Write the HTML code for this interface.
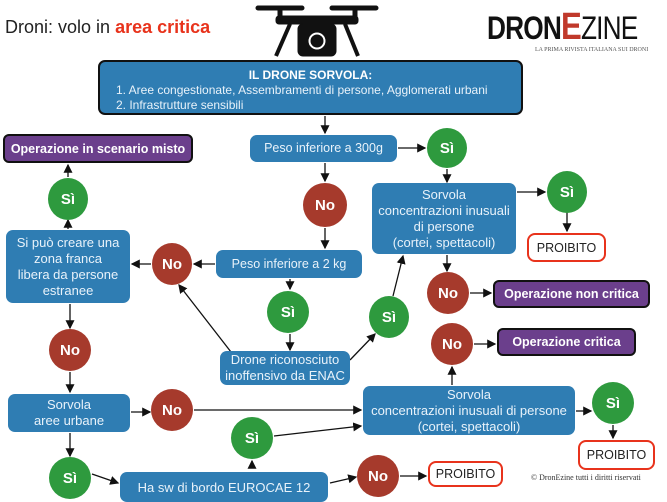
<!DOCTYPE html>
<html><head><meta charset="utf-8"><style>
body{margin:0;width:667px;height:500px;background:#fff;position:relative;overflow:hidden;font-family:"Liberation Sans",sans-serif}
.b{position:absolute;background:#2f7db3;color:#e8f2fa;border-radius:7px;display:flex;align-items:center;justify-content:center;text-align:center;font-size:12.5px;line-height:15px}
.p{position:absolute;background:#6b3f8c;color:#fff;border:2.5px solid #111;border-radius:6px;display:flex;align-items:center;justify-content:center;font-weight:bold;font-size:12.5px;box-sizing:border-box}
.r{position:absolute;background:#fff;border:2.5px solid #e8331c;border-radius:8px;display:flex;align-items:center;justify-content:center;font-size:12.5px;color:#222;box-sizing:border-box}
.c{position:absolute;border-radius:50%;display:flex;align-items:center;justify-content:center;color:#fff;font-weight:bold;font-size:15px}
.g{background:#2e9a3e}.n{background:#a63a2c}
svg{position:absolute;left:0;top:0}
</style></head><body>
<div style="position:absolute;left:5px;top:17px;font-size:18px;color:#222">Droni: volo in <b style="color:#e8331c">area critica</b></div>
<svg width="667" height="500">
<defs><marker id="a" markerWidth="7" markerHeight="7" refX="6" refY="3.5" orient="auto"><path d="M0,0 L7,3.5 L0,7z" fill="#111"/></marker></defs>
<!-- drone -->
<g fill="#111" stroke="#111">
<rect x="256" y="6" width="48" height="4" rx="2"/><rect x="330" y="6" width="48" height="4" rx="2"/>
<rect x="278" y="8" width="4" height="10"/><rect x="353" y="8" width="4" height="10"/>
<rect x="276" y="16" width="82" height="8" rx="3"/>
<line x1="290" y1="24" x2="276" y2="56" stroke-width="4"/><line x1="345" y1="24" x2="358" y2="56" stroke-width="4"/>
<rect x="298" y="24" width="38" height="32" rx="5"/>
<circle cx="317" cy="41" r="9" fill="#fff"/><circle cx="317" cy="41" r="6"/>
</g>
<g stroke="#111" stroke-width="1.3" fill="none" marker-end="url(#a)">
<line x1="325" y1="116" x2="325" y2="133"/>
<line x1="398" y1="148" x2="425" y2="148"/>
<line x1="325" y1="163" x2="325" y2="181"/>
<line x1="447" y1="169" x2="447" y2="182"/>
<line x1="325" y1="228" x2="325" y2="248"/>
<line x1="517" y1="192" x2="545" y2="192"/>
<line x1="567" y1="212" x2="567" y2="231"/>
<line x1="68" y1="229" x2="68" y2="220"/>
<line x1="68" y1="177" x2="68" y2="165"/>
<line x1="215" y1="264" x2="194" y2="264"/>
<line x1="151" y1="264" x2="132" y2="264"/>
<line x1="290" y1="279" x2="290" y2="289"/>
<line x1="290" y1="334" x2="290" y2="350"/>
<line x1="447" y1="255" x2="447" y2="271"/>
<line x1="470" y1="293" x2="491" y2="293"/>
<line x1="231" y1="352" x2="179" y2="285"/>
<line x1="350" y1="360" x2="375" y2="334"/>
<line x1="393" y1="296" x2="403" y2="256"/>
<line x1="70" y1="304" x2="70" y2="328"/>
<line x1="70" y1="372" x2="70" y2="392"/>
<line x1="452" y1="385" x2="452" y2="367"/>
<line x1="474" y1="344" x2="495" y2="344"/>
<line x1="131" y1="412" x2="150" y2="412"/>
<line x1="194" y1="410" x2="361" y2="410"/>
<line x1="70" y1="433" x2="70" y2="456"/>
<line x1="274" y1="436" x2="361" y2="426"/>
<line x1="576" y1="411" x2="591" y2="411"/>
<line x1="613" y1="425" x2="613" y2="438"/>
<line x1="252" y1="467" x2="252" y2="461"/>
<line x1="92" y1="474" x2="118" y2="483"/>
<line x1="330" y1="483" x2="356" y2="477"/>
<line x1="400" y1="476" x2="426" y2="476"/>
</g>
</svg>
<div style="position:absolute;left:487px;top:6px;font-size:32px;letter-spacing:-1px;color:#111;font-weight:bold;transform:scaleX(.82);transform-origin:left;white-space:nowrap">DRON<span style="color:#c0392b;font-size:38px">E</span><span style="font-weight:normal">ZINE</span></div>
<div style="position:absolute;left:535px;top:47px;font-size:6px;color:#555;font-family:'Liberation Serif',serif;white-space:nowrap">LA PRIMA RIVISTA ITALIANA SUI DRONI</div>
<div class="b" style="left:98px;top:60px;width:425px;height:55px;border:2.5px solid #111;box-sizing:border-box;display:block;text-align:left;padding:6px 0 0 16px;font-size:12px;line-height:15px"><div style="text-align:center;font-weight:bold;color:#fff;margin-left:-16px">IL DRONE SORVOLA:</div>1. Aree congestionate, Assembramenti di persone, Agglomerati urbani<br>2. Infrastrutture sensibili</div>
<div class="p" style="left:3px;top:134px;width:190px;height:29px">Operazione in scenario misto</div>
<div class="b" style="left:250px;top:135px;width:147px;height:27px">Peso inferiore a 300g</div>
<div class="c g" style="left:427px;top:128px;width:40px;height:40px">Sì</div>
<div class="c n" style="left:303px;top:183px;width:44px;height:44px">No</div>
<div class="b" style="left:372px;top:183px;width:144px;height:71px;font-size:13px;line-height:16px">Sorvola<br>concentrazioni inusuali<br>di persone<br>(cortei, spettacoli)</div>
<div class="c g" style="left:547px;top:171px;width:40px;height:42px">Sì</div>
<div class="r" style="left:527px;top:233px;width:79px;height:29px">PROIBITO</div>
<div class="c g" style="left:48px;top:178px;width:40px;height:42px">Sì</div>
<div class="b" style="left:6px;top:230px;width:124px;height:73px;font-size:13px;line-height:16px">Si può creare una<br>zona franca<br>libera da persone<br>estranee</div>
<div class="c n" style="left:152px;top:243px;width:40px;height:42px">No</div>
<div class="b" style="left:216px;top:250px;width:146px;height:28px">Peso inferiore a 2 kg</div>
<div class="c n" style="left:427px;top:272px;width:42px;height:42px">No</div>
<div class="p" style="left:493px;top:280px;width:157px;height:28px">Operazione non critica</div>
<div class="c g" style="left:267px;top:291px;width:42px;height:42px">Sì</div>
<div class="c g" style="left:369px;top:296px;width:40px;height:42px">Sì</div>
<div class="c n" style="left:49px;top:329px;width:42px;height:42px">No</div>
<div class="c n" style="left:431px;top:323px;width:42px;height:42px">No</div>
<div class="p" style="left:497px;top:328px;width:139px;height:28px">Operazione critica</div>
<div class="b" style="left:220px;top:351px;width:130px;height:34px;font-size:13px;line-height:16px">Drone riconosciuto<br>inoffensivo da ENAC</div>
<div class="b" style="left:8px;top:394px;width:122px;height:38px;font-size:13px;line-height:16px">Sorvola<br>aree urbane</div>
<div class="c n" style="left:151px;top:389px;width:42px;height:42px">No</div>
<div class="b" style="left:363px;top:386px;width:212px;height:49px;font-size:13px;line-height:16px">Sorvola<br>concentrazioni inusuali di persone<br>(cortei, spettacoli)</div>
<div class="c g" style="left:592px;top:382px;width:42px;height:42px">Sì</div>
<div class="c g" style="left:231px;top:417px;width:42px;height:42px">Sì</div>
<div class="r" style="left:578px;top:440px;width:77px;height:30px">PROIBITO</div>
<div class="c g" style="left:49px;top:457px;width:42px;height:42px">Sì</div>
<div class="b" style="left:120px;top:472px;width:208px;height:30px;font-size:13px">Ha sw di bordo EUROCAE 12</div>
<div class="c n" style="left:357px;top:455px;width:42px;height:42px">No</div>
<div class="r" style="left:428px;top:461px;width:75px;height:26px">PROIBITO</div>
<div style="position:absolute;left:531px;top:473px;font-size:8px;color:#333;font-family:'Liberation Serif',serif">© DronEzine tutti i diritti riservati</div>
</body></html>
